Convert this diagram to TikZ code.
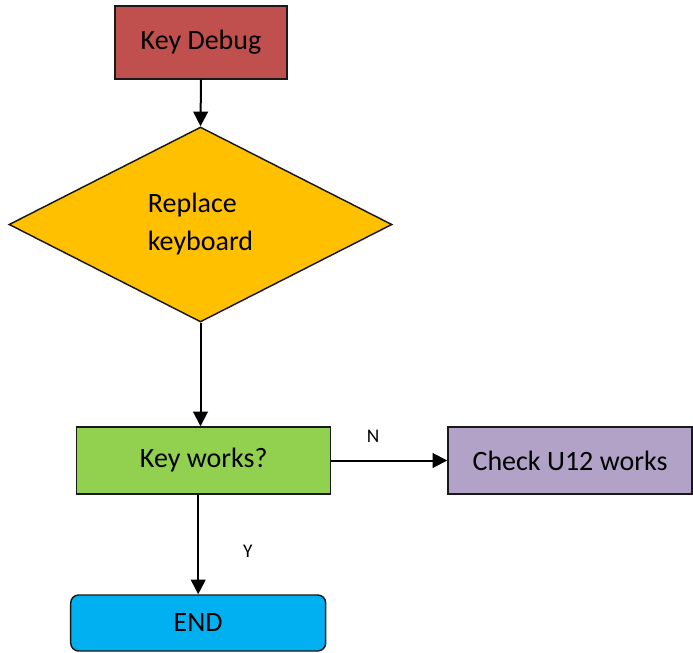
\documentclass[tikz,border=0pt]{standalone}
\usepackage{fontspec}
\setmainfont{Carlito}
\usetikzlibrary{shapes.geometric,arrows.meta,calc}
\definecolor{cred}{HTML}{C0504D}
\definecolor{cyel}{HTML}{FFC000}
\definecolor{cgrn}{HTML}{92D050}
\definecolor{cpur}{HTML}{B3A2C7}
\definecolor{cblu}{HTML}{00B0F0}
\tikzset{
  boxstyle/.style={draw=black!90, line width=1.1pt, inner sep=0pt, font=\fontsize{21}{25}\selectfont},
  conn/.style={line width=1.5pt, -{Triangle[length=11pt,width=11pt]}},
  lbl/.style={font=\fontsize{14.5}{17}\selectfont, inner sep=0pt}
}
\begin{document}
\begin{tikzpicture}[x=0.75pt,y=-0.75pt]
\useasboundingbox (0,0) rectangle (693,653);
\node[boxstyle, fill=cred, minimum width=172*0.75pt, minimum height=73*0.75pt] (kd) at (201,42.5) {Key Debug};
\node[boxstyle, diamond, fill=cyel, minimum width=383*0.75pt, minimum height=195*0.75pt, align=left,
      font=\fontsize{21}{28.5}\selectfont] (dia) at (200.5,224.5) {Replace\\keyboard};
\node[boxstyle, fill=cgrn, minimum width=254*0.75pt, minimum height=67*0.75pt] (kw) at (203.7,460.5) {Key works?};
\node[boxstyle, fill=cpur, minimum width=244*0.75pt, minimum height=67*0.75pt] (cu) at (570,460.5) {Check U12 works};
\node[boxstyle, fill=cblu, rounded corners=6pt, minimum width=255*0.75pt, minimum height=56*0.75pt] (end) at (198.2,623) {END};
\draw[conn] (kd.south) -- (dia.north);
\draw[conn] (dia.south) -- (dia.south |- kw.north);
\draw[conn] (kw.east) -- (cu.west) node[lbl, pos=0.36, above=13pt] (n) {N};
\draw[conn] (end.north |- kw.south) -- (end.north) node[lbl, pos=0.57, right=33pt] (y) {Y};
\end{tikzpicture}
\end{document}
